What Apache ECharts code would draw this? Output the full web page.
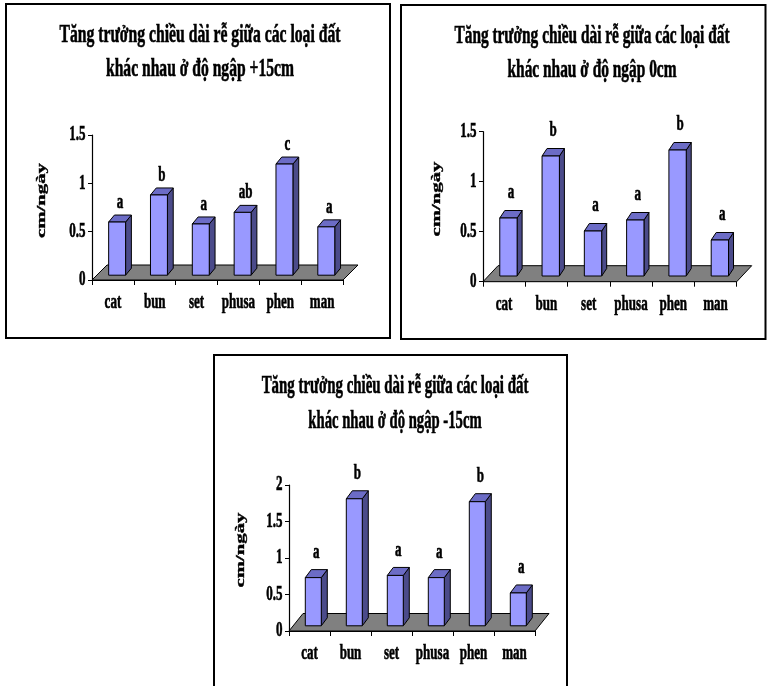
<!DOCTYPE html>
<html>
<head>
<meta charset="utf-8">
<script src="https://cdn.jsdelivr.net/npm/echarts@6.0.0/dist/echarts.min.js"></script>
<style>
  html, body { margin: 0; padding: 0; background: #fff; }
  #chart { width: 768px; height: 686px; }
</style>
</head>
<body>
<div id="chart"></div>
<script>
// ---- data -------------------------------------------------------------
const categories = ['cat', 'bun', 'set', 'phusa', 'phen', 'man'];

const titlePlus15 = ['Tăng trưởng chiều dài rễ giữa các loại đất', 'khác nhau ở độ ngập +15cm'];
const titleZero = ['Tăng trưởng chiều dài rễ giữa các loại đất', 'khác nhau ở độ ngập 0cm'];
const titleMinus15 = ['Tăng trưởng chiều dài rễ giữa các loại đất', 'khác nhau ở độ ngập -15cm'];

const rootGrowthPlus15 = [0.55, 0.83, 0.53, 0.65, 1.15, 0.50];
const rootGrowthZero = [0.58, 1.20, 0.45, 0.56, 1.26, 0.36];
const rootGrowthMinus15 = [0.66, 1.74, 0.69, 0.66, 1.70, 0.45];

const lettersPlus15 = ['a', 'b', 'a', 'ab', 'c', 'a'];
const lettersZero = ['a', 'b', 'a', 'a', 'b', 'a'];
const lettersMinus15 = ['a', 'b', 'a', 'a', 'b', 'a'];

const ticksPlus15 = [0, 0.5, 1, 1.5];
const ticksZero = [0, 0.5, 1, 1.5];
const ticksMinus15 = [0, 0.5, 1, 1.5, 2];

const unitName = 'cm/ngày';

// ---- styling / layout -------------------------------------------------
const SERIF = '"Liberation Serif", "Times New Roman", serif';
const SQUEEZE = 0.62;               // narrow type, as in the printed figure
const AXIS_SIZE = 21;
const TITLE_SIZE = 25;
const FRONT = '#9999ff';
const TOP = '#6c6cc6';
const SIDE = '#4b4b8a';
const FLOOR = '#808080';

const panels = [
  {
    title: titlePlus15, values: rootGrowthPlus15, letters: lettersPlus15, ticks: ticksPlus15,
    box: [6, 4, 390, 338],
    grid: { left: 92, top: 135, width: 251, height: 145 },
    titleCx: 200, titleBase: [44.3, 77.5], titleWidth: [281, 188],
    nameAt: [41.5, 200.5],
    floorDepth: [15, -15], barShift: [4.2, -4.8], barRatio: 0.405, barDepth: [5.8, -7],
    letterLift: 12.5
  },
  {
    title: titleZero, values: rootGrowthZero, letters: lettersZero, ticks: ticksZero,
    box: [401, 5, 765.5, 339],
    grid: { left: 483, top: 131.7, width: 253.7, height: 150 },
    titleCx: 592, titleBase: [45, 78.5], titleWidth: [275, 169],
    nameAt: [437, 199],
    floorDepth: [15, -16], barShift: [4.3, -5.7], barRatio: 0.41, barDepth: [5, -7.5],
    letterLift: 18.5
  },
  {
    title: titleMinus15, values: rootGrowthMinus15, letters: lettersMinus15, ticks: ticksMinus15,
    box: [214, 355, 567, 692],
    grid: { left: 289, top: 485, width: 246, height: 146 },
    titleCx: 395, titleBase: [394.5, 430], titleWidth: [266.7, 173.3],
    nameAt: [241, 550],
    floorDepth: [14, -17.5], barShift: [3.8, -5.2], barRatio: 0.39, barDepth: [6, -8],
    letterLift: 18
  }
];

// the "middle" text baseline sits ~0.34em above the alphabetic baseline
const MID = 0.3375;

const measureCtx = document.createElement('canvas').getContext('2d');
function textWidth(str, size) {
  measureCtx.font = 'bold ' + size + 'px ' + SERIF;
  return measureCtx.measureText(str).width;
}

// heavy bold serif: a thin outline thickens the strokes a little
function textStyle(str, size, align) {
  return {
    text: str, fill: '#000', stroke: '#000', lineWidth: 0.6,
    fontFamily: SERIF, fontWeight: 'bold', fontSize: size,
    align: align || 'center', verticalAlign: 'middle'
  };
}

// ---- renderers --------------------------------------------------------
function floorRenderer(p) {
  return function (params) {
    const cs = params.coordSys;
    const yb = cs.y + cs.height, xl = cs.x, xr = cs.x + cs.width;
    const dx = p.floorDepth[0], dy = p.floorDepth[1];
    return {
      type: 'polygon',
      shape: { points: [[xl, yb], [xr, yb], [xr + dx, yb + dy], [xl + dx, yb + dy]] },
      style: { fill: FLOOR, stroke: '#000', lineWidth: 1 }
    };
  };
}

function barRenderer(p) {
  return function (params, api) {
    const i = api.value(0), v = api.value(1);
    const band = api.size([1, 0])[0];
    const p0 = api.coord([i, 0]);
    const p1 = api.coord([i, v]);
    const w = band * p.barRatio;
    const x0 = p0[0] - w / 2 + p.barShift[0];
    const x1 = x0 + w;
    const yb = p0[1] + p.barShift[1];
    const yt = p1[1] + p.barShift[1];
    const dx = p.barDepth[0], dy = p.barDepth[1];
    const edge = { stroke: '#000', lineWidth: 1, lineJoin: 'round' };
    return {
      type: 'group',
      children: [
        { type: 'polygon', shape: { points: [[x1, yt], [x1 + dx, yt + dy], [x1 + dx, yb + dy], [x1, yb]] },
          style: Object.assign({ fill: SIDE }, edge) },
        { type: 'polygon', shape: { points: [[x0, yt], [x0 + dx, yt + dy], [x1 + dx, yt + dy], [x1, yt]] },
          style: Object.assign({ fill: TOP }, edge) },
        { type: 'rect', shape: { x: x0, y: yt, width: w, height: yb - yt },
          style: Object.assign({ fill: FRONT }, edge) },
        { type: 'text', x: x0 + w / 2 + dx / 2, y: yt - p.letterLift - MID * AXIS_SIZE,
          scaleX: SQUEEZE, style: textStyle(p.letters[i], AXIS_SIZE) }
      ]
    };
  };
}

function tickLabelRenderer() {
  return function (params, api) {
    const v = api.value(1);
    const pt = api.coord([0, v]);
    return {
      type: 'text', x: params.coordSys.x - 6.5, y: pt[1], scaleX: SQUEEZE,
      style: textStyle(String(v), AXIS_SIZE, 'right')
    };
  };
}

function categoryLabelRenderer() {
  return function (params, api) {
    const i = api.value(0);
    const pt = api.coord([i, 0]);
    return {
      type: 'text', x: pt[0], y: pt[1] + 29.5 - MID * AXIS_SIZE, scaleX: SQUEEZE,
      style: textStyle(categories[i], AXIS_SIZE)
    };
  };
}

// ---- option -----------------------------------------------------------
const grids = [], xAxes = [], yAxes = [], series = [], graphics = [];

panels.forEach(function (p, k) {
  const yMax = p.ticks[p.ticks.length - 1];
  grids.push(Object.assign({ containLabel: false }, p.grid));
  xAxes.push({
    type: 'category', gridIndex: k, data: categories, boundaryGap: true,
    axisLine: { show: true, lineStyle: { color: '#000', width: 1 } },
    axisTick: { show: true, length: 5, interval: 0, alignWithLabel: false, lineStyle: { color: '#000' } },
    axisLabel: { show: false }, splitLine: { show: false }
  });
  yAxes.push({
    type: 'value', gridIndex: k, min: 0, max: yMax, interval: 0.5,
    axisLine: { show: true, lineStyle: { color: '#000', width: 1.2 } },
    axisTick: { show: true, length: 4, lineStyle: { color: '#000' } },
    axisLabel: { show: false }, splitLine: { show: false }
  });

  series.push({
    type: 'custom', xAxisIndex: k, yAxisIndex: k, silent: true, z: 2,
    data: [[0, 0]], renderItem: floorRenderer(p)
  });
  series.push({
    type: 'custom', xAxisIndex: k, yAxisIndex: k, silent: true, z: 3,
    data: p.values.map(function (v, i) { return [i, v]; }), renderItem: barRenderer(p)
  });
  series.push({
    type: 'custom', xAxisIndex: k, yAxisIndex: k, silent: true, z: 3,
    data: p.ticks.map(function (t) { return [0, t]; }), renderItem: tickLabelRenderer()
  });
  series.push({
    type: 'custom', xAxisIndex: k, yAxisIndex: k, silent: true, z: 3,
    data: categories.map(function (c, i) { return [i, 0]; }), renderItem: categoryLabelRenderer()
  });

  // frame
  graphics.push({
    type: 'rect', silent: true,
    shape: { x: p.box[0], y: p.box[1], width: p.box[2] - p.box[0], height: p.box[3] - p.box[1] },
    style: { fill: 'none', stroke: '#000', lineWidth: 2 }
  });
  // two-line title, each line narrowed to its printed width
  p.title.forEach(function (line, j) {
    graphics.push({
      type: 'text', silent: true,
      x: p.titleCx, y: p.titleBase[j] - MID * TITLE_SIZE,
      scaleX: p.titleWidth[j] / textWidth(line, TITLE_SIZE),
      style: textStyle(line, TITLE_SIZE)
    });
  });
  // vertical unit label
  graphics.push({
    type: 'text', silent: true,
    x: p.nameAt[0], y: p.nameAt[1], rotation: Math.PI / 2,
    scaleX: 75 / textWidth(unitName, 20), scaleY: SQUEEZE,
    style: textStyle(unitName, 20)
  });
});

const chart = echarts.init(document.getElementById('chart'), null, { renderer: 'canvas' });
chart.setOption({
  animation: false,
  backgroundColor: '#fff',
  grid: grids,
  xAxis: xAxes,
  yAxis: yAxes,
  series: series,
  graphic: { elements: graphics }
});
</script>
</body>
</html>
